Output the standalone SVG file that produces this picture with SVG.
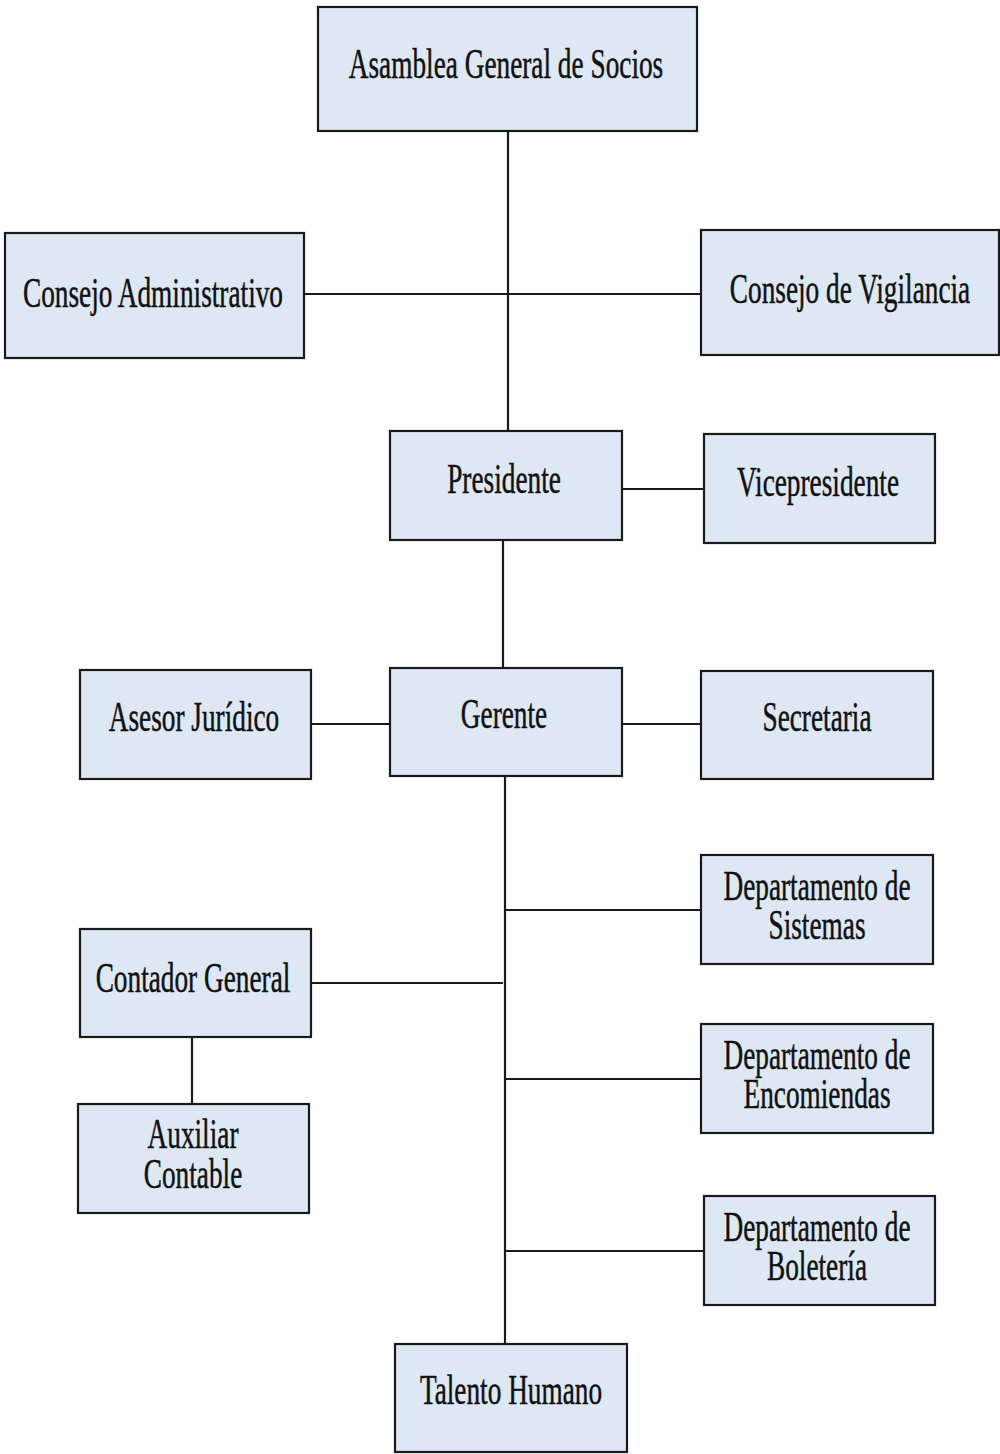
<svg xmlns="http://www.w3.org/2000/svg" width="1000" height="1454" viewBox="0 0 1000 1454">
<style>
.box{fill:#dde8f4;stroke:#1a1a1a;stroke-width:2.2}
.t{font-family:"Liberation Serif","Times New Roman",serif;font-size:42px;fill:#111;stroke:#111;stroke-width:0.5;text-anchor:middle}
.c{stroke:#1a1a1a;stroke-width:2.2;fill:none}
</style>
<rect width="1000" height="1454" fill="#ffffff"/>
<g id="connectors">
<line class="c" x1="508" y1="131" x2="508" y2="431"/>
<line class="c" x1="304" y1="294" x2="701" y2="294"/>
<line class="c" x1="622" y1="489" x2="704" y2="489"/>
<line class="c" x1="503" y1="540" x2="503" y2="668"/>
<line class="c" x1="311" y1="724" x2="390" y2="724"/>
<line class="c" x1="622" y1="724" x2="701" y2="724"/>
<line class="c" x1="505" y1="776" x2="505" y2="1344"/>
<line class="c" x1="505" y1="910" x2="701" y2="910"/>
<line class="c" x1="505" y1="1079" x2="701" y2="1079"/>
<line class="c" x1="505" y1="1251" x2="704" y2="1251"/>
<line class="c" x1="311" y1="983" x2="503" y2="983"/>
<line class="c" x1="192" y1="1037" x2="192" y2="1104"/>
</g>
<g id="asamblea"><rect class="box" x="318" y="7" width="379" height="124"/><text class="t" transform="translate(506,78) scale(0.65,1)">Asamblea General de Socios</text></g>
<g id="consejo-admin"><rect class="box" x="5" y="233" width="299" height="125"/><text class="t" transform="translate(153,307) scale(0.65,1)">Consejo Administrativo</text></g>
<g id="consejo-vigilancia"><rect class="box" x="701" y="230" width="298" height="125"/><text class="t" transform="translate(850,303) scale(0.65,1)">Consejo de Vigilancia</text></g>
<g id="presidente"><rect class="box" x="390" y="431" width="232" height="109"/><text class="t" transform="translate(504,493) scale(0.65,1)">Presidente</text></g>
<g id="vicepresidente"><rect class="box" x="704" y="434" width="231" height="109"/><text class="t" transform="translate(818,496) scale(0.65,1)">Vicepresidente</text></g>
<g id="asesor"><rect class="box" x="80" y="670" width="231" height="109"/><text class="t" transform="translate(194,731) scale(0.65,1)">Asesor Jurídico</text></g>
<g id="gerente"><rect class="box" x="390" y="668" width="232" height="108"/><text class="t" transform="translate(504,728) scale(0.65,1)">Gerente</text></g>
<g id="secretaria"><rect class="box" x="701" y="671" width="232" height="108"/><text class="t" transform="translate(817,731) scale(0.65,1)">Secretaria</text></g>
<g id="sistemas"><rect class="box" x="701" y="855" width="232" height="109"/><text class="t" transform="translate(817,900) scale(0.65,1)">Departamento de</text><text class="t" transform="translate(817,939) scale(0.65,1)">Sistemas</text></g>
<g id="contador"><rect class="box" x="80" y="929" width="231" height="108"/><text class="t" transform="translate(193,992) scale(0.65,1)">Contador General</text></g>
<g id="encomiendas"><rect class="box" x="701" y="1024" width="232" height="109"/><text class="t" transform="translate(817,1069) scale(0.65,1)">Departamento de</text><text class="t" transform="translate(817,1108) scale(0.65,1)">Encomiendas</text></g>
<g id="auxiliar"><rect class="box" x="78" y="1104" width="231" height="109"/><text class="t" transform="translate(193,1148) scale(0.65,1)">Auxiliar</text><text class="t" transform="translate(193,1188) scale(0.65,1)">Contable</text></g>
<g id="boleteria"><rect class="box" x="704" y="1196" width="231" height="109"/><text class="t" transform="translate(817,1241) scale(0.65,1)">Departamento de</text><text class="t" transform="translate(817,1280) scale(0.65,1)">Boletería</text></g>
<g id="talento"><rect class="box" x="395" y="1344" width="232" height="108"/><text class="t" transform="translate(511,1404) scale(0.65,1)">Talento Humano</text></g>
</svg>
